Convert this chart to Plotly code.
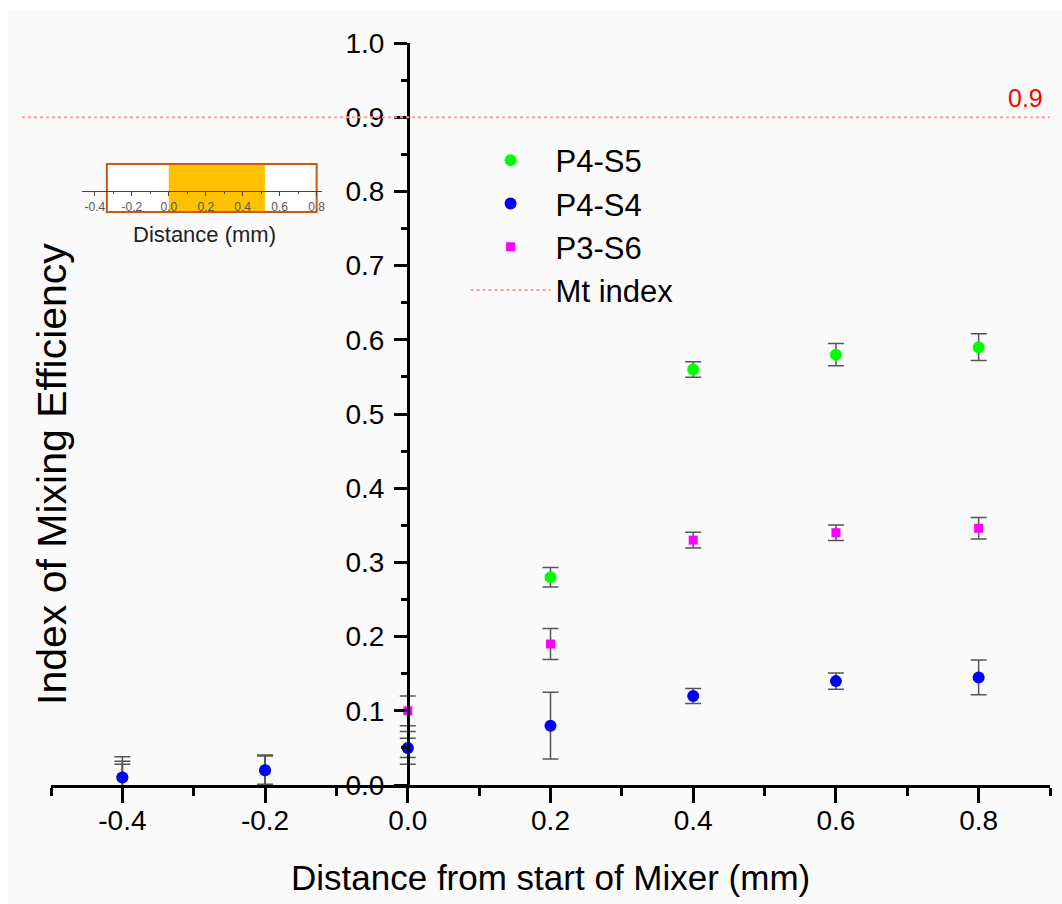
import plotly.graph_objects as go

# Measurement positions along the mixer (mm)
distance = [-0.4, -0.2, 0.0, 0.2, 0.4, 0.6, 0.8]

# Index of mixing efficiency and its standard deviation per configuration
p4_s5 = [0.01, 0.02, 0.05, 0.28, 0.56, 0.58, 0.59]
p4_s5_err = [0.028, 0.020, 0.013, 0.013, 0.0105, 0.015, 0.018]

p4_s4 = [0.01, 0.02, 0.05, 0.08, 0.12, 0.14, 0.145]
p4_s4_err = [0.018, 0.020, 0.022, 0.045, 0.010, 0.011, 0.0235]

p3_s6 = [0.01, 0.02, 0.10, 0.19, 0.33, 0.34, 0.346]
p3_s6_err = [0.022, 0.019, 0.020, 0.021, 0.0105, 0.0105, 0.0145]

# Target mixing index
mt_index = 0.9

# Axis ticks
x_tickvals = [-0.4, -0.2, 0.0, 0.2, 0.4, 0.6, 0.8]
x_ticktext = ["-0.4", "-0.2", "0.0", "0.2", "0.4", "0.6", "0.8"]
y_tickvals = [0.0, 0.1, 0.2, 0.3, 0.4, 0.5, 0.6, 0.7, 0.8, 0.9, 1.0]
y_ticktext = ["0.0", "0.1", "0.2", "0.3", "0.4", "0.5", "0.6", "0.7", "0.8", "0.9", "1.0"]

# Inset: mixer position scale
inset_ticks = [-0.4, -0.2, 0.0, 0.2, 0.4, 0.6, 0.8]
inset_ticktext = ["-0.4", "-0.2", "0.0", "0.2", "0.4", "0.6", "0.8"]
inset_box = [-0.335, 0.80]
mixer_zone = [0.0, 0.52]

FONT = "Liberation Sans, Arial, sans-serif"
ERR_COLOR = "#555555"

fig = go.Figure()


def add_series(name, y, err, color, symbol, size, rank):
    fig.add_trace(go.Scatter(
        x=distance, y=y, name=name, mode="markers",
        marker=dict(color=color, symbol=symbol, size=size, line=dict(width=0)),
        error_y=dict(type="data", array=err, visible=True,
                     color=ERR_COLOR, thickness=1.5, width=8),
        legendrank=rank,
    ))


add_series("P4-S5", p4_s5, p4_s5_err, "#00ff00", "circle", 12, 1)
add_series("P3-S6", p3_s6, p3_s6_err, "#ff00ff", "square", 9, 3)
add_series("P4-S4", p4_s4, p4_s4_err, "#0000ff", "circle", 12, 2)

# Legend entry for the threshold line
fig.add_trace(go.Scatter(
    x=[None], y=[None], name="Mt index", mode="lines",
    line=dict(color="#ff9a9a", width=2, dash="3px,3px"),
    legendrank=4,
))

# Inset axis (drawn only for its ticks)
fig.add_trace(go.Scatter(x=[None], y=[None], xaxis="x2", yaxis="y2",
                         showlegend=False, hoverinfo="skip"))

fig.add_shape(type="line", xref="paper", yref="y",
              x0=-0.029, x1=1.0, y0=mt_index, y1=mt_index,
              line=dict(color="#ff9a9a", width=2, dash="3px,3px"))

fig.add_annotation(x=0.995, xref="paper", y=mt_index, yref="y",
                   text=f"{mt_index:.1f}", showarrow=False,
                   xanchor="right", yanchor="bottom", yshift=3,
                   font=dict(family=FONT, size=25, color="#ff0000"))

# Light grey page behind the chart
fig.add_shape(type="rect", xref="paper", yref="paper",
              x0=-0.043, x1=1.02, y0=-0.17, y1=1.0445,
              fillcolor="#fafafa", line=dict(width=0), layer="below")

# Inset box and highlighted mixer zone
fig.add_shape(type="rect", xref="x2", yref="paper",
              x0=inset_box[0], x1=inset_box[1], y0=0.7722, y1=0.8369,
              fillcolor="#ffffff", line=dict(color="#c55a11", width=2),
              layer="below")
fig.add_shape(type="rect", xref="x2", yref="paper",
              x0=mixer_zone[0], x1=mixer_zone[1], y0=0.7735, y1=0.8356,
              fillcolor="#ffc000", line=dict(width=0), layer="below")

fig.add_annotation(x=(205 - 51) / 1002, xref="paper",
                   y=(785 - 235) / 742, yref="paper",
                   xanchor="center", yanchor="middle",
                   text="Distance (mm)", showarrow=False,
                   font=dict(family=FONT, size=22, color="#222222"))

# Axis titles
fig.add_annotation(x=(52 - 51) / 1002, xref="paper",
                   y=(785 - 474) / 742, yref="paper",
                   xanchor="center", yanchor="middle",
                   text="Index of Mixing Efficiency", textangle=-90,
                   showarrow=False,
                   font=dict(family=FONT, size=41, color="#000000"))
fig.add_annotation(x=(552 - 51) / 1002, xref="paper",
                   y=(785 - 877) / 742, yref="paper",
                   xanchor="center", yanchor="middle",
                   text="Distance from start of Mixer (mm)", showarrow=False,
                   font=dict(family=FONT, size=35, color="#000000"))

fig.update_layout(
    width=1062, height=904,
    margin=dict(l=51, r=9, t=43, b=119),
    paper_bgcolor="#ffffff",
    plot_bgcolor="rgba(0,0,0,0)",
    font=dict(family=FONT, color="#000000"),
    showlegend=True,
    legend=dict(x=0.415, y=0.878, xanchor="left", yanchor="top",
                bgcolor="rgba(0,0,0,0)", itemwidth=80,
                font=dict(family=FONT, size=31, color="#000000"),
                tracegroupgap=0),
    xaxis=dict(
        range=[-0.5, 0.9], showgrid=False, zeroline=False,
        showline=True, linecolor="#000000", linewidth=2.5,
        tickmode="array", tickvals=x_tickvals, ticktext=x_ticktext,
        ticks="outside", ticklen=15, tickwidth=2.5, tickcolor="#000000",
        minor=dict(ticks="outside", ticklen=8, tickwidth=2.5,
                   tickcolor="#000000", dtick=0.1, tick0=-0.5, showgrid=False),
        tickfont=dict(family=FONT, size=28, color="#000000"),
        ticklabelstandoff=-6,
    ),
    yaxis=dict(
        range=[0, 1.0], showgrid=False, zeroline=False,
        anchor="free", position=0.5 / 1.4,
        showline=True, linecolor="#000000", linewidth=2.5,
        tickmode="array", tickvals=y_tickvals, ticktext=y_ticktext,
        ticks="outside", ticklen=13, tickwidth=2.5, tickcolor="#000000",
        minor=dict(ticks="outside", ticklen=6, tickwidth=2.5,
                   tickcolor="#000000", dtick=0.05, tick0=0, showgrid=False),
        tickfont=dict(family=FONT, size=28, color="#000000"),
        ticklabelstandoff=4,
    ),
    xaxis2=dict(
        domain=[(82 - 51) / 1002, (323 - 51) / 1002],
        range=[-0.47, 0.83], anchor="free", position=0.8005,
        showgrid=False, zeroline=False,
        showline=True, linecolor="#444444", linewidth=1.2,
        tickmode="array", tickvals=inset_ticks, ticktext=inset_ticktext,
        ticks="outside", ticklen=4, tickwidth=1, tickcolor="#444444",
        minor=dict(ticks="outside", ticklen=2, tickwidth=1,
                   tickcolor="#444444", dtick=0.1, tick0=-0.4),
        tickfont=dict(family=FONT, size=12, color="#555555"),
    ),
    yaxis2=dict(
        domain=[0.7722, 0.8369], range=[0, 1], anchor="x2",
        visible=False,
    ),
)

fig.write_html("out.html")
